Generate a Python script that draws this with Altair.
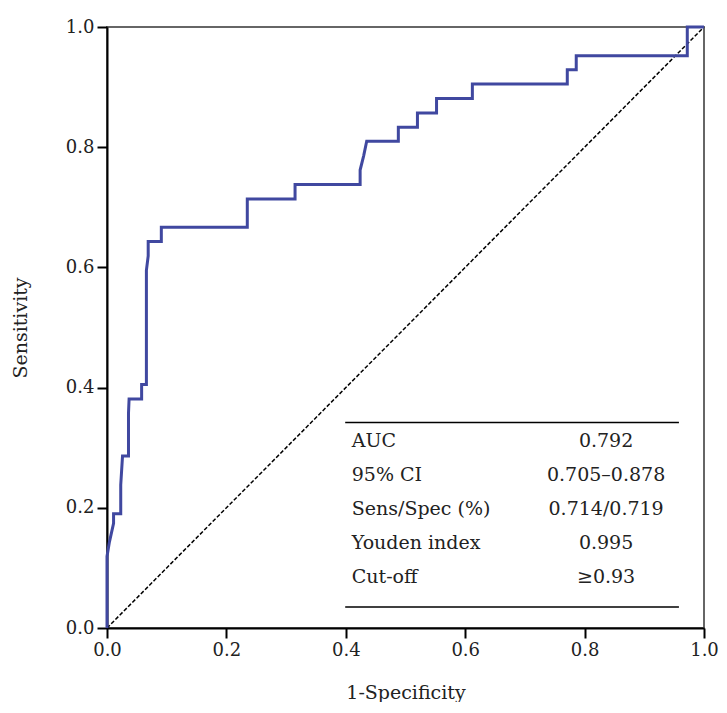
import altair as alt
import pandas as pd

# ROC curve vertices (1-specificity, sensitivity)
fpr = [0.0, 0.0, 0.004, 0.011, 0.011, 0.023, 0.023, 0.026, 0.036, 0.036, 0.037,
       0.058, 0.058, 0.066, 0.066, 0.069, 0.069, 0.091, 0.091, 0.235, 0.235,
       0.315, 0.315, 0.424, 0.424, 0.430, 0.435, 0.488, 0.488, 0.520, 0.520,
       0.552, 0.552, 0.612, 0.612, 0.771, 0.771, 0.786, 0.786, 0.972, 0.972, 1.0]
tpr = [0.0, 0.119, 0.143, 0.174, 0.190, 0.190, 0.238, 0.286, 0.286, 0.357, 0.381,
       0.381, 0.405, 0.405, 0.595, 0.619, 0.643, 0.643, 0.667, 0.667, 0.714,
       0.714, 0.738, 0.738, 0.762, 0.786, 0.810, 0.810, 0.833, 0.833, 0.857,
       0.857, 0.881, 0.881, 0.905, 0.905, 0.929, 0.929, 0.952, 0.952, 1.0, 1.0]

ref_x = [0.0, 1.0]
ref_y = [0.0, 1.0]

table_labels = ["AUC", "95% CI", "Sens/Spec (%)", "Youden index", "Cut-off"]
table_values = ["0.792", "0.705\u20130.878", "0.714/0.719", "0.995", "\u22650.93"]

tick_vals = [0.0, 0.2, 0.4, 0.6, 0.8, 1.0]

FONT = "DejaVu Serif"
BLUE = "#4048a0"
TXT = "#222"

roc_df = pd.DataFrame({"fpr": fpr, "tpr": tpr, "order": range(len(fpr))})
ref_df = pd.DataFrame({"fpr": ref_x, "tpr": ref_y})

# table layout (in data units of the plot)
row_top = 0.311
row_step = 0.0565
tab_df = pd.DataFrame({
    "label": table_labels,
    "value": table_values,
    "y": [row_top - i * row_step for i in range(len(table_labels))],
})
rule_df = pd.DataFrame({"x": [0.399, 0.399], "x2": [0.958, 0.958], "y": [0.342, 0.035]})

xscale = alt.Scale(domain=[0, 1], nice=False)
yscale = alt.Scale(domain=[0, 1], nice=False)

xaxis = alt.Axis(values=tick_vals, format=".1f", title="1-Specificity", titlePadding=24,
                 labelFlush=False)
yaxis = alt.Axis(values=tick_vals, format=".1f", title="Sensitivity", titlePadding=35,
                 labelFlush=False)

ref = alt.Chart(ref_df).mark_line(color="black", strokeDash=[4, 2], strokeWidth=1.5).encode(
    x=alt.X("fpr:Q", scale=xscale, axis=xaxis),
    y=alt.Y("tpr:Q", scale=yscale, axis=yaxis),
)

roc = alt.Chart(roc_df).mark_line(color=BLUE, strokeWidth=3, interpolate="linear").encode(
    x=alt.X("fpr:Q", scale=xscale),
    y=alt.Y("tpr:Q", scale=yscale),
    order="order:Q",
)

rules = alt.Chart(rule_df).mark_rule(color="black", strokeWidth=1.5).encode(
    x="x:Q", x2="x2:Q", y="y:Q"
)

labels = alt.Chart(tab_df).mark_text(align="left", baseline="middle", font=FONT,
                                     fontSize=19, color=TXT).encode(
    x=alt.datum(0.410), y="y:Q", text="label:N"
)
values = alt.Chart(tab_df).mark_text(align="center", baseline="middle", font=FONT,
                                     fontSize=19, color=TXT).encode(
    x=alt.datum(0.836), y="y:Q", text="value:N"
)

chart = alt.layer(ref, roc, rules, labels, values).properties(
    width=597, height=601,
    autosize=alt.AutoSizeParams(type="none"),
    padding={"left": 99, "top": 19, "right": 15, "bottom": 74},
).configure_view(
    stroke="#666", strokeWidth=2
).configure_axis(
    domainColor="black", domainWidth=2, tickColor="black", tickWidth=2, tickSize=10,
    labelFont=FONT, labelFontSize=18, labelColor=TXT, labelPadding=3,
    titleFont=FONT, titleFontSize=19, titleFontWeight="normal", titleColor=TXT,
    grid=False,
)

chart.save("out.html", embed_options={"renderer": "svg", "actions": False})
